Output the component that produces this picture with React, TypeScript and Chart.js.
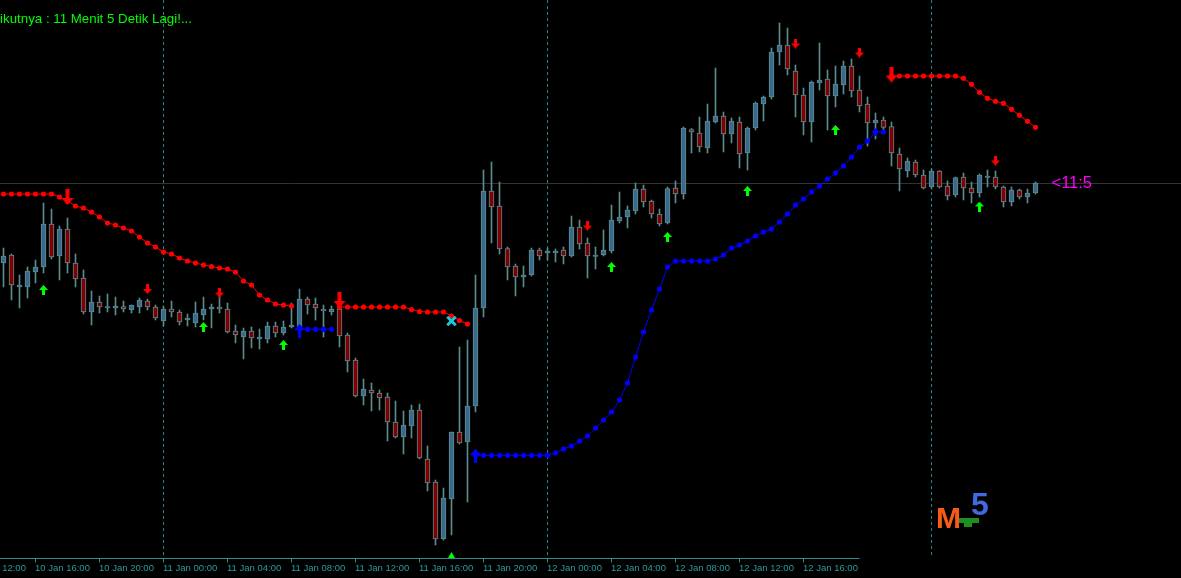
import React, { useEffect, useRef } from "react";
import { Chart, registerables } from "chart.js";

Chart.register(...registerables);

// M30 bars, bar 0 = 10 Jan 14:00
const opens = [
  337, 345, 313, 313, 328, 333, 376, 344, 371, 337,
  322, 288, 298, 292, 292, 293.5, 290, 293, 299, 293,
  279, 291, 288, 280, 277, 285, 291, 293, 291, 269,
  263, 269, 261, 261, 274, 267, 273, 273, 301, 296,
  291, 288, 291, 265, 240, 204, 210, 207, 203, 178,
  163, 174, 190, 141, 118, 61, 101, 168, 158, 194,
  292, 409, 394, 351.5, 334, 323, 325, 350, 347, 347,
  350, 344, 373, 357, 343.5, 345, 349, 379, 383, 389,
  411, 399, 386, 377, 412, 406, 470.5, 467, 452, 478,
  484, 466, 478, 447, 472, 496, 503, 548, 555, 529,
  505, 478, 517, 521, 504, 515, 534, 510, 496, 477,
  480, 473.5, 446, 429, 438, 425, 413, 429, 414, 405,
  423, 412, 407, 422.5, 423, 413, 398, 410, 403, 407,
];
const highs = [
  352, 346, 325, 333, 340, 397, 391, 374, 382, 346,
  330, 309, 304, 306, 303, 299, 295, 302, 301, 295,
  294, 299, 290, 286, 298, 303, 296, 309, 297, 275,
  272, 273, 271, 278, 278, 279, 297, 311, 303, 302,
  295, 294, 300, 267, 242, 221, 217, 210, 207, 199,
  189, 195, 196, 154, 120, 112, 168, 253, 260, 325,
  430, 438, 418, 353, 336, 334, 352, 352, 352, 351,
  353, 384, 380, 362, 353, 370, 395, 408, 394, 417,
  415, 400, 391, 413, 419, 473, 471.5, 483, 496, 532,
  488, 482, 483, 473, 498, 504, 552, 577, 572, 535,
  512, 519, 557, 530, 534, 539, 541, 524, 503, 487,
  483, 478, 452, 442, 440, 430, 431, 429.5, 419, 423,
  427, 418, 426, 430, 429, 414, 413, 411, 411, 418,
];
const lows = [
  313, 300, 292, 302, 317, 327, 341, 320, 327, 313,
  286, 275, 287, 288, 285, 288, 287, 287, 290, 280,
  274, 283, 275, 274, 273, 280, 272, 287, 267, 257,
  241, 252, 251, 257, 263, 265, 272, 272, 286, 280,
  263, 285, 253, 228, 203, 195, 189, 190, 159, 162,
  146, 162, 141, 109, 55, 60, 65, 156, 98, 188,
  283, 357, 346, 320, 304, 313, 324, 340, 340, 338,
  336, 343, 351, 322, 331, 344, 347, 377, 372, 386,
  393, 382, 374, 376, 397, 401, 447, 448, 447, 477,
  448, 457, 432, 430, 470, 479, 501, 535, 525, 483,
  465, 458, 510, 470, 493, 506, 503, 488, 454, 461,
  467, 434, 409, 423, 423, 411, 411, 412, 400, 403,
  400, 397, 403, 413, 411, 393, 394, 401, 397, 406,
];
const closes = [
  344, 315, 315, 329, 333, 376, 343, 371, 337, 321,
  288, 298, 293, 293.5, 294, 291, 295, 300, 293, 282,
  291, 288, 278, 282, 287, 291, 293, 291, 268, 265,
  269, 262, 263, 274, 267, 273, 275, 301, 295, 292,
  289, 291, 264, 239, 204, 211, 207, 202, 178, 163,
  175, 190, 142, 117, 61, 102, 168, 157, 194, 292,
  409, 393, 351, 333, 323, 325, 350, 344, 349, 349,
  344, 373, 356, 344, 345, 350, 380, 383, 390, 411,
  398, 386, 376, 411.5, 406, 472, 468, 453, 479, 484,
  466, 479, 446, 472, 497, 503, 548, 555, 531, 505,
  478, 518, 520, 504, 516, 534, 509, 494, 477, 480,
  472.5, 447, 431, 439, 425, 412, 429, 413, 404, 422.5,
  412, 407, 425, 424, 413, 398, 410, 403, 407, 417,
];

// trailing stop segments (start bar + values)
const redStop1Start = 0;
const redStop1 = [
  406, 406, 406, 406, 406, 406, 406, 403, 399, 394,
  392, 388, 383, 377, 375, 372, 369, 363, 357, 353,
  348, 346, 342, 339, 337, 335, 333.5, 332, 331, 328,
  319, 315, 305, 300, 296, 295, 294,
];
const redStop2Start = 42;
const redStop2 = [293, 293, 293, 293, 293, 293, 293, 293, 293, 290.5, 288.5, 288, 288, 288, 284, 279.5, 276];
const redStop3Start = 111;
const redStop3 = [524, 524, 524, 524, 524, 524, 524, 524, 524, 521.7, 515.7, 507.7, 501.7, 498.7, 496.7, 490.7, 484.7, 478.7, 472.7];
const blueStop1Start = 37;
const blueStop1 = [270.7, 270.7, 270.7, 270.7, 270.7];
const blueStop2Start = 59;
const blueStop2 = [
  144.7, 144.7, 144.7, 144.7, 144.7, 144.7, 144.7, 144.7, 144.7, 144.7,
  147, 151, 154, 159, 164, 172, 180, 188, 200, 217,
  243, 268, 290, 311, 333, 339, 339, 339, 339, 339,
  341, 345, 352, 355, 359, 364, 368, 371, 378, 386,
  395, 401, 408, 414, 421, 427, 434, 443, 453, 459,
  468, 468,
];

// signals: [bar, price]
const sellSignals = [[18, 311], [27, 307.5], [73, 374.5], [99, 556.5], [107, 547.5], [124, 439.5]];
const buySignals = [[5, 310], [25, 273], [35, 255], [76, 333], [83, 363], [93, 409], [104, 470], [122, 393.5]];
const trendDownStarts = [[8, 403], [42, 300], [111, 525.5]];
const trendUpStarts = [[37, 269], [59, 144]];
const trendUpSmall = [[109, 468]];
const exitMarks = [[56, 279]];
const bottomMarks = [[56, 44]];

const timeTickBars = [-4, 4, 12, 20, 28, 36, 44, 52, 60, 68, 76, 84, 92, 100];
const timeTickLabels = [
  "10 Jan 12:00", "10 Jan 16:00", "10 Jan 20:00", "11 Jan 00:00", "11 Jan 04:00",
  "11 Jan 08:00", "11 Jan 12:00", "11 Jan 16:00", "11 Jan 20:00", "12 Jan 00:00",
  "12 Jan 04:00", "12 Jan 08:00", "12 Jan 12:00", "12 Jan 16:00",
];
const daySeparatorBars = [20, 68, 116];
const currentPrice = 417;
const timerText = "<11:5";
const infoText = "Candle Berikutnya : 11 Menit 5 Detik Lagi!...";

const BULL = "#3d6a8b";
const BEAR = "#800000";
const EDGE = "#5b8b8f";
const WICK = "#5b8b8b";

function makeArrow(color: string, w: number, h: number, shaft: number, head: number, up: boolean) {
  const c = document.createElement("canvas");
  c.width = w;
  c.height = h;
  const g = c.getContext("2d")!;
  g.fillStyle = color;
  g.beginPath();
  const l = (w - shaft) / 2;
  const r = (w + shaft) / 2;
  if (up) {
    g.moveTo(w / 2, 0);
    g.lineTo(w, head);
    g.lineTo(r, head);
    g.lineTo(r, h);
    g.lineTo(l, h);
    g.lineTo(l, head);
    g.lineTo(0, head);
  } else {
    g.moveTo(w / 2, h);
    g.lineTo(w, h - head);
    g.lineTo(r, h - head);
    g.lineTo(r, 0);
    g.lineTo(l, 0);
    g.lineTo(l, h - head);
    g.lineTo(0, h - head);
  }
  g.closePath();
  g.fill();
  return c;
}

const seg = (start: number, vals: number[]) => vals.map((v, j) => ({ x: start + j, y: v }));
const pts = (arr: number[][]) => arr.map(([b, p]) => ({ x: b, y: p }));

const decorPlugin = {
  id: "mtDecor",
  beforeDraw(chart: any) {
    const { ctx, width, height } = chart;
    ctx.save();
    ctx.fillStyle = "#000000";
    ctx.fillRect(0, 0, width, height);
    ctx.restore();
  },
  beforeDatasetsDraw(chart: any) {
    const { ctx, chartArea } = chart;
    const xs = chart.scales.x;
    const ys = chart.scales.y;
    ctx.save();
    ctx.lineWidth = 1;
    ctx.strokeStyle = "#1d8a8a";
    ctx.setLineDash([3, 3]);
    for (const b of daySeparatorBars) {
      const x = Math.floor(xs.getPixelForValue(b)) + 0.5;
      ctx.beginPath();
      ctx.moveTo(x, chartArea.top);
      ctx.lineTo(x, chartArea.bottom);
      ctx.stroke();
    }
    ctx.setLineDash([]);
    ctx.strokeStyle = "#333333";
    const py = Math.floor(ys.getPixelForValue(currentPrice)) + 0.5;
    ctx.beginPath();
    ctx.moveTo(chartArea.left, py);
    ctx.lineTo(chartArea.right, py);
    ctx.stroke();
    ctx.restore();
  },
  afterDraw(chart: any) {
    const { ctx, chartArea } = chart;
    const xs = chart.scales.x;
    const ys = chart.scales.y;
    ctx.save();
    // time axis
    const ay = chartArea.bottom + 0.5;
    const lastBar = timeTickBars[timeTickBars.length - 1];
    const axisEnd = xs.getPixelForValue(lastBar + 7);
    ctx.strokeStyle = "#2f8f8f";
    ctx.lineWidth = 1;
    ctx.beginPath();
    ctx.moveTo(0, ay);
    ctx.lineTo(axisEnd, ay);
    ctx.stroke();
    ctx.font = "9.5px 'Liberation Sans', Arial, sans-serif";
    ctx.fillStyle = "#2b9b9b";
    ctx.textBaseline = "alphabetic";
    ctx.textAlign = "left";
    timeTickBars.forEach((b, i) => {
      const x = Math.floor(xs.getPixelForValue(b)) + 0.5;
      ctx.beginPath();
      ctx.moveTo(x, ay);
      ctx.lineTo(x, ay + 4);
      ctx.stroke();
      ctx.fillText(timeTickLabels[i], Math.floor(x), chartArea.bottom + 13);
    });
    // info text
    ctx.font = "13.3px 'Liberation Sans', Arial, sans-serif";
    ctx.fillStyle = "#00ff00";
    ctx.textAlign = "right";
    ctx.fillText(infoText, 192, 23);
    // timer
    const py = ys.getPixelForValue(currentPrice);
    ctx.font = "16.5px 'Liberation Sans', Arial, sans-serif";
    ctx.fillStyle = "#ff00ff";
    ctx.textAlign = "left";
    ctx.fillText(timerText, xs.getPixelForValue(opens.length - 1) + 16, py + 5);
    // logo
    ctx.font = "bold 30px 'Liberation Sans', Arial, sans-serif";
    ctx.fillStyle = "#f85a18";
    ctx.fillText("M", 936, 528);
    ctx.fillStyle = "#1f8f1f";
    ctx.fillRect(959, 518, 20, 5);
    ctx.fillRect(964, 522, 8, 5);
    ctx.font = "bold 32px 'Liberation Sans', Arial, sans-serif";
    ctx.fillStyle = "#4169e1";
    ctx.fillText("5", 971, 515);
    ctx.restore();
  },
};

export default function App() {
  const ref = useRef<HTMLCanvasElement>(null);
  useEffect(() => {
    const canvas = ref.current;
    if (!canvas) return;
    const idx = opens.map((_, i) => i);
    const wickData = idx.map((i) => ({ x: i, y: [lows[i], highs[i]] }));
    const bodyData = idx.map((i) => ({ x: i, y: [opens[i], closes[i]] }));
    const bodyColors = idx.map((i) => (closes[i] >= opens[i] ? BULL : BEAR));

    const sellImg = makeArrow("#ff0000", 9, 10, 3, 5, false);
    const buyImg = makeArrow("#00ff00", 9, 10, 3, 5, true);
    const bigDownImg = makeArrow("#ff0000", 12, 16, 4, 7, false);
    const bigUpImg = makeArrow("#0000ff", 11, 14, 3, 6, true);
    const smallUpBlue = makeArrow("#0000ff", 7, 8, 2, 4, true);

    const lineDs = (data: any[], color: string) => ({
      type: "line",
      data,
      borderColor: color,
      borderWidth: 1,
      pointRadius: 2.6,
      pointBackgroundColor: color,
      pointBorderWidth: 0,
      tension: 0,
      order: 10,
    });
    const markDs = (data: any[], img: any) => ({
      type: "scatter",
      data,
      pointStyle: img,
      pointRadius: 5,
      showLine: false,
      order: 2,
      clip: false,
    });

    const chart = new Chart(canvas, {
      type: "bar",
      data: {
        datasets: [
          {
            type: "bar",
            data: wickData,
            backgroundColor: WICK,
            borderWidth: 0,
            barThickness: 1,
            grouped: false,
            order: 20,
          },
          {
            type: "bar",
            data: bodyData,
            backgroundColor: bodyColors,
            borderColor: EDGE,
            borderWidth: 1,
            borderSkipped: false,
            barThickness: 5,
            grouped: false,
            order: 19,
          },
          lineDs(seg(redStop1Start, redStop1), "#ff0000"),
          lineDs(seg(redStop2Start, redStop2), "#ff0000"),
          lineDs(seg(redStop3Start, redStop3), "#ff0000"),
          lineDs(seg(blueStop1Start, blueStop1), "#0000ff"),
          lineDs(seg(blueStop2Start, blueStop2), "#0000ff"),
          markDs(pts(sellSignals), sellImg),
          markDs(pts(buySignals), buyImg),
          markDs(pts(trendDownStarts), bigDownImg),
          markDs(pts(trendUpStarts), bigUpImg),
          markDs(pts(trendUpSmall), smallUpBlue),
          {
            type: "scatter",
            data: pts(exitMarks),
            pointStyle: "crossRot",
            pointRadius: 6,
            borderWidth: 3,
            borderColor: "#19c8dc",
            backgroundColor: "#19c8dc",
            order: 1,
          },
          {
            type: "scatter",
            data: pts(bottomMarks),
            pointStyle: "triangle",
            pointRadius: 4,
            borderWidth: 0,
            backgroundColor: "#00ff00",
            order: 1,
          },
        ] as any,
      },
      options: {
        responsive: false,
        animation: false,
        devicePixelRatio: 1,
        events: [],
        layout: { autoPadding: false, padding: { left: 0, right: 0, top: 0, bottom: 20 } },
        plugins: { legend: { display: false }, tooltip: { enabled: false } },
        scales: {
          x: { type: "linear", min: -0.4375, max: -0.4375 + 1181 / 8, display: false, offset: false },
          y: { type: "linear", min: 42, max: 600, display: false },
        },
      } as any,
      plugins: [decorPlugin],
    });
    return () => chart.destroy();
  }, []);
  return (
    <div style={{ position: "fixed", left: 0, top: 0, width: 1181, height: 578, background: "#000" }}>
      <canvas ref={ref} width={1181} height={578} style={{ display: "block", width: 1181, height: 578 }} />
    </div>
  );
}
